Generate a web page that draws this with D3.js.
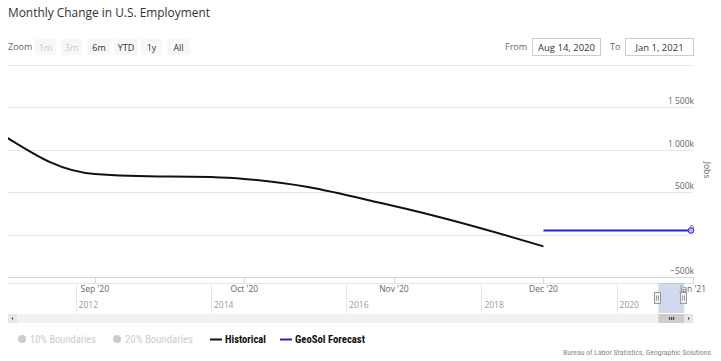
<!DOCTYPE html>
<html>
<head>
<meta charset="utf-8">
<script src="https://cdn.jsdelivr.net/npm/d3@7.9.0/dist/d3.min.js"></script>
<style>
  body { margin: 0; background: #fff; }
  svg { display: block; font-family: "Open Sans", "DejaVu Sans", sans-serif; }
</style>
</head>
<body>
<svg id="chart" width="721" height="361"></svg>
<script>
// monthly points, ordinal axis (each month equally spaced)
const months = ["Jul '20", "Aug '20", "Sep '20", "Oct '20", "Nov '20", "Dec '20", "Jan '21"];
const historical = [1761, 1493, 711, 654, 336, -140];        // thousands of jobs, Jul..Dec
const forecastMonths = ["Dec '20", "Jan '21"];
const forecast = [47, 47];
const yTicks = [-500, 0, 500, 1000, 1500, 2000];
const xTickMonths = ["Sep '20", "Oct '20", "Nov '20", "Dec '20", "Jan '21"];
const navYears = [2012, 2014, 2016, 2018, 2020];
const zoomButtons = ["1m", "3m", "6m", "YTD", "1y", "All"];
const disabledButtons = ["1m", "3m"];

const svg = d3.select('#chart');
const plotL = 8, plotR = 693, plotT = 64.5, plotB = 277;
const narrow = '"Liberation Sans Narrow", "Roboto Condensed", "DejaVu Sans Condensed", sans-serif';

// Aug 14 .. Jan 1 in ordinal index units
const x = d3.scaleLinear().domain([1 + 13 / 31, 6]).range([plotL, plotR]);
const y = d3.scaleLinear().domain([-500, 2000]).range([plotB, plotT]);
const idx = m => months.indexOf(m);

// title
svg.append('text').attr('x', 8).attr('y', 17)
  .attr('font-size', 13).attr('fill', '#333')
  .attr('textLength', 202).attr('lengthAdjust', 'spacingAndGlyphs')
  .text('Monthly Change in U.S. Employment');

// range selector
svg.append('text').attr('x', 8).attr('y', 50).attr('font-size', 9).attr('fill', '#666').text('Zoom');
const btnX = [35, 61, 87, 114, 141, 167];
const btnW = [21, 21, 24, 24, 21, 23];
zoomButtons.forEach((b, i) => {
  const g = svg.append('g').attr('transform', `translate(${btnX[i]},39)`);
  g.append('rect').attr('width', btnW[i]).attr('height', 16).attr('fill', '#f7f7f7');
  g.append('text').attr('x', btnW[i] / 2).attr('y', 11.5).attr('text-anchor', 'middle')
    .attr('font-size', 9).attr('fill', disabledButtons.includes(b) ? '#cccccc' : '#333')
    .text(b);
});

svg.append('text').attr('x', 505).attr('y', 50).attr('font-size', 9).attr('fill', '#666').text('From');
svg.append('rect').attr('x', 532.5).attr('y', 38.5).attr('width', 68).attr('height', 17)
  .attr('fill', '#fff').attr('stroke', '#cccccc');
svg.append('text').attr('x', 566.5).attr('y', 50.5).attr('text-anchor', 'middle')
  .attr('font-size', 9.5).attr('fill', '#333').text('Aug 14, 2020');
svg.append('text').attr('x', 610).attr('y', 50).attr('font-size', 9).attr('fill', '#666').text('To');
svg.append('rect').attr('x', 625.5).attr('y', 38.5).attr('width', 68).attr('height', 17)
  .attr('fill', '#fff').attr('stroke', '#cccccc');
svg.append('text').attr('x', 659.5).attr('y', 50.5).attr('text-anchor', 'middle')
  .attr('font-size', 9.5).attr('fill', '#333').text('Jan 1, 2021');

// grid + y labels
const fmt = v => v === 0 ? '0' : d3.format(',')(v).replace(',', ' ') + 'k';
svg.append('g').selectAll('line').data(yTicks).join('line')
  .attr('x1', plotL).attr('x2', plotR)
  .attr('y1', d => Math.round(y(d)) + 0.5).attr('y2', d => Math.round(y(d)) + 0.5)
  .attr('stroke', '#e6e6e6');
svg.append('g').selectAll('text').data(yTicks.filter(d => d < 2000)).join('text')
  .attr('x', 694).attr('y', d => y(d) - 3).attr('text-anchor', 'end')
  .attr('font-size', 8.5).attr('fill', '#666').text(fmt);
svg.append('text').attr('transform', 'translate(704,170) rotate(90)')
  .attr('text-anchor', 'middle').attr('font-size', 8.5).attr('fill', '#666').text('Jobs');

// x axis
svg.append('line').attr('x1', plotL).attr('x2', plotR).attr('y1', plotB + 0.5).attr('y2', plotB + 0.5)
  .attr('stroke', '#ccd6eb');
svg.append('g').selectAll('line').data(xTickMonths).join('line')
  .attr('x1', d => Math.round(x(idx(d))) + 0.5).attr('x2', d => Math.round(x(idx(d))) + 0.5)
  .attr('y1', plotB).attr('y2', plotB + 7).attr('stroke', '#ccd6eb');

// Highcharts-style spline
function splinePath(pts) {
  const sm = 1.5, den = sm + 1;
  const c = pts.map(() => ({}));
  for (let i = 1; i < pts.length - 1; i++) {
    const [lx, ly] = pts[i - 1], [px, py] = pts[i], [nx, ny] = pts[i + 1];
    let lcx = (sm * px + lx) / den, lcy = (sm * py + ly) / den;
    let rcx = (sm * px + nx) / den, rcy = (sm * py + ny) / den;
    const corr = ((rcy - lcy) * (rcx - px)) / (rcx - lcx) + py - rcy;
    lcy += corr; rcy += corr;
    if (lcy > ly && lcy > py) { lcy = Math.max(ly, py); rcy = 2 * py - lcy; }
    else if (lcy < ly && lcy < py) { lcy = Math.min(ly, py); rcy = 2 * py - lcy; }
    if (rcy > ny && rcy > py) { rcy = Math.max(ny, py); lcy = 2 * py - rcy; }
    else if (rcy < ny && rcy < py) { rcy = Math.min(ny, py); lcy = 2 * py - rcy; }
    c[i] = { lcx, lcy, rcx, rcy };
  }
  const p = d3.path();
  p.moveTo(pts[0][0], pts[0][1]);
  for (let i = 1; i < pts.length; i++) {
    const a = c[i - 1], b = c[i];
    p.bezierCurveTo(a.rcx ?? pts[i - 1][0], a.rcy ?? pts[i - 1][1],
      b.lcx ?? pts[i][0], b.lcy ?? pts[i][1], pts[i][0], pts[i][1]);
  }
  return p.toString();
}

svg.append('clipPath').attr('id', 'plot').append('rect')
  .attr('x', plotL).attr('y', plotT).attr('width', plotR - plotL + 4).attr('height', plotB - plotT);

const histPts = historical.map((v, i) => [x(i), y(v)]);
svg.append('path').attr('clip-path', 'url(#plot)')
  .attr('d', splinePath(histPts))
  .attr('fill', 'none').attr('stroke', '#111').attr('stroke-width', 2);

const fcPts = forecast.map((v, i) => [x(idx(forecastMonths[i])), y(v)]);
svg.append('path').attr('d', d3.line()(fcPts))
  .attr('fill', 'none').attr('stroke', '#2424c8').attr('stroke-width', 2);
const lastFc = fcPts[fcPts.length - 1];
svg.append('circle').attr('cx', lastFc[0] - 2).attr('cy', lastFc[1]).attr('r', 2.8)
  .attr('fill', '#b9b9e6').attr('stroke', '#2424c8').attr('stroke-width', 1);

// x labels
svg.append('g').selectAll('text').data(xTickMonths).join('text')
  .attr('x', d => x(idx(d))).attr('y', 292).attr('text-anchor', 'middle')
  .attr('font-size', 8.5).attr('fill', '#666').text(d => d);

// navigator
const navTop = 283, navBottom = 313;
const nx = d3.scaleTime().domain([new Date(2011, 0, 1), new Date(2021, 1, 17)]).range([plotL, plotR]);
svg.append('line').attr('x1', plotL).attr('x2', plotR).attr('y1', navTop + 0.5).attr('y2', navTop + 0.5)
  .attr('stroke', '#e6e6e6');
svg.append('g').selectAll('line').data(navYears).join('line')
  .attr('x1', d => Math.round(nx(new Date(d, 0, 1))) + 0.5).attr('x2', d => Math.round(nx(new Date(d, 0, 1))) + 0.5)
  .attr('y1', navTop).attr('y2', navBottom).attr('stroke', '#e6e6e6');
svg.append('g').selectAll('text').data(navYears).join('text')
  .attr('x', d => nx(new Date(d, 0, 1)) + 3).attr('y', 308)
  .attr('font-size', 8.5).attr('fill', '#999').text(d => d);

const selFrom = nx(new Date(2020, 7, 14)), selTo = nx(new Date(2021, 0, 1));
svg.append('rect').attr('x', selFrom).attr('y', navTop).attr('width', selTo - selFrom)
  .attr('height', navBottom - navTop).attr('fill', 'rgba(102,133,194,0.3)');
[selFrom, selTo].forEach(hx => {
  const g = svg.append('g').attr('transform', `translate(${Math.round(hx) - 3.5},292.5)`);
  g.append('rect').attr('width', 6).attr('height', 11).attr('fill', '#f2f2f2').attr('stroke', '#999');
  g.append('line').attr('x1', 2).attr('x2', 2).attr('y1', 3).attr('y2', 8).attr('stroke', '#999');
  g.append('line').attr('x1', 4).attr('x2', 4).attr('y1', 3).attr('y2', 8).attr('stroke', '#999');
});

// scrollbar
const sbY = 314, sbH = 9;
svg.append('rect').attr('x', plotL).attr('y', sbY).attr('width', plotR - plotL).attr('height', sbH).attr('fill', '#f2f2f2');
svg.append('rect').attr('x', plotL).attr('y', sbY).attr('width', sbH).attr('height', sbH).attr('fill', '#e6e6e6');
svg.append('rect').attr('x', plotR - sbH).attr('y', sbY).attr('width', sbH).attr('height', sbH).attr('fill', '#e6e6e6');
svg.append('path').attr('d', `M${plotL + 5},${sbY + 3}L${plotL + 5},${sbY + 6}L${plotL + 3.5},${sbY + 4.5}Z`).attr('fill', '#333');
svg.append('path').attr('d', `M${plotR - 5},${sbY + 3}L${plotR - 5},${sbY + 6}L${plotR - 3.5},${sbY + 4.5}Z`).attr('fill', '#333');
svg.append('rect').attr('x', selFrom).attr('y', sbY).attr('width', plotR - sbH - selFrom).attr('height', sbH).attr('fill', '#cccccc');
const gx = (selFrom + plotR - sbH) / 2;
[-2, 0, 2].forEach(o => svg.append('line').attr('x1', gx + o + 0.5).attr('x2', gx + o + 0.5)
  .attr('y1', sbY + 3).attr('y2', sbY + 6).attr('stroke', '#333'));

// legend
const legend = [
  { name: '10% Boundaries', symbol: 'circle', color: '#cccccc', text: '#cccccc', x: 30, w: 66, bold: false },
  { name: '20% Boundaries', symbol: 'circle', color: '#cccccc', text: '#cccccc', x: 125, w: 68, bold: false },
  { name: 'Historical', symbol: 'line', color: '#111', text: '#111', x: 225, w: 41, bold: true },
  { name: 'GeoSol Forecast', symbol: 'line', color: '#2424c8', text: '#111', x: 295, w: 70, bold: true }
];
legend.forEach(l => {
  if (l.symbol === 'circle') {
    svg.append('circle').attr('cx', l.x - 8).attr('cy', 339).attr('r', 4).attr('fill', l.color);
  } else {
    svg.append('line').attr('x1', l.x - 15).attr('x2', l.x - 3).attr('y1', 339.5).attr('y2', 339.5)
      .attr('stroke', l.color).attr('stroke-width', 2);
  }
  svg.append('text').attr('x', l.x).attr('y', 343).attr('font-size', 10.5)
    .attr('font-family', narrow)
    .attr('font-weight', l.bold ? 'bold' : 'normal').attr('fill', l.text)
    .attr('textLength', l.w).attr('lengthAdjust', 'spacingAndGlyphs')
    .text(l.name);
});

svg.append('text').attr('x', 711).attr('y', 355).attr('text-anchor', 'end')
  .attr('font-size', 8).attr('font-family', narrow)
  .attr('textLength', 148).attr('lengthAdjust', 'spacingAndGlyphs')
  .attr('fill', '#888').text('Bureau of Labor Statistics, Geographic Solutions');
</script>
</body>
</html>
